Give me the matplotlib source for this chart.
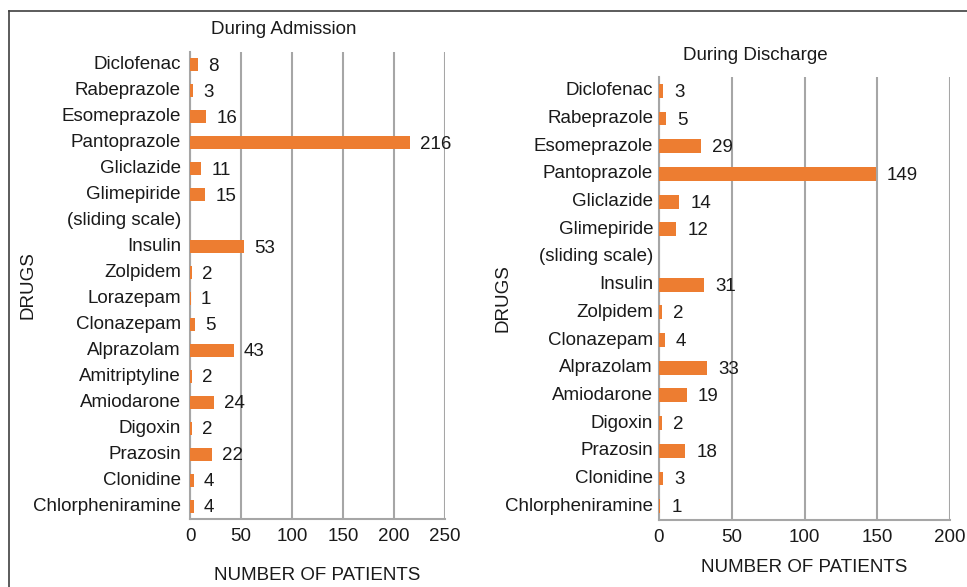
import matplotlib
matplotlib.use("Agg")
import matplotlib.pyplot as plt
from matplotlib.lines import Line2D
import matplotlib.transforms as mtransforms
import numpy as np

plt.rcParams['font.family'] = ['Liberation Sans', 'DejaVu Sans']

adm_drugs = ["Diclofenac", "Rabeprazole", "Esomeprazole", "Pantoprazole", "Gliclazide",
             "Glimepiride", "(sliding scale)", "Insulin", "Zolpidem", "Lorazepam",
             "Clonazepam", "Alprazolam", "Amitriptyline", "Amiodarone", "Digoxin",
             "Prazosin", "Clonidine", "Chlorpheniramine"]
adm_values = [8, 3, 16, 216, 11, 15, None, 53, 2, 1, 5, 43, 2, 24, 2, 22, 4, 4]

dis_drugs = ["Diclofenac", "Rabeprazole", "Esomeprazole", "Pantoprazole", "Gliclazide",
             "Glimepiride", "(sliding scale)", "Insulin", "Zolpidem", "Clonazepam",
             "Alprazolam", "Amiodarone", "Digoxin", "Prazosin", "Clonidine",
             "Chlorpheniramine"]
dis_values = [3, 5, 29, 149, 14, 12, None, 31, 2, 4, 33, 19, 2, 18, 3, 1]

adm_ticks = [0, 50, 100, 150, 200, 250]
dis_ticks = [0, 50, 100, 150, 200]

W, H = 967, 587
fig = plt.figure(figsize=(W / 100, H / 100), dpi=100)

BAR = "#ED7D31"
GRID = "#A6A6A6"
FS = 13.5


def px(x0, y0, x1, y1):
    return [x0 / W, 1 - y1 / H, (x1 - x0) / W, (y1 - y0) / H]


def panel(rect, drugs, values, ticks, ypad, label_off):
    ax = fig.add_axes(rect)
    n = len(drugs)
    y = np.arange(n)
    vals = [np.nan if v is None else v for v in values]
    ax.barh(y, vals, height=0.5, color=BAR, zorder=3)
    xmax = ticks[-1]
    scale = xmax / (rect[2] * W)
    down = mtransforms.ScaledTranslation(0, -1.5 / 100, fig.dpi_scale_trans)
    for yi, v in zip(y, values):
        if v is None:
            continue
        ax.text(v + label_off * scale, yi, str(v), va="center", ha="left",
                fontsize=FS, color="#1a1a1a", zorder=4,
                transform=ax.transData + down)
    ax.set_xlim(0, xmax)
    ax.set_ylim(n - 0.5, -0.5)
    ax.set_xticks(ticks)
    ax.set_yticks(y)
    ax.set_yticklabels(drugs)
    ax.tick_params(axis="both", length=0, labelsize=FS, colors="#1a1a1a")
    ax.tick_params(axis="y", pad=ypad)
    ax.tick_params(axis="x", pad=6.5)
    up = mtransforms.ScaledTranslation(0, 2 / 100, fig.dpi_scale_trans)
    for lab in ax.get_yticklabels():
        lab.set_transform(lab.get_transform() + up)
    ax.grid(axis="x", color=GRID, linewidth=1.5, zorder=0)
    for s in ["top", "right"]:
        ax.spines[s].set_visible(False)
    for s in ["left", "bottom"]:
        ax.spines[s].set_color(GRID)
        ax.spines[s].set_linewidth(1.5)
    return ax


panel(px(190, 52, 445, 519), adm_drugs, adm_values, adm_ticks, 6.5, 10)
panel(px(659, 77, 950, 520), dis_drugs, dis_values, dis_ticks, 4.3, 11)

fig.text(284 / W, 1 - 29 / H, "During Admission", ha="center", va="center", fontsize=FS, color="#1a1a1a")
fig.text(755 / W, 1 - 56 / H, "During Discharge", ha="center", va="center", fontsize=FS, color="#1a1a1a")
fig.text(317 / W, 1 - 575 / H, "NUMBER OF PATIENTS", ha="center", va="center", fontsize=FS, color="#1a1a1a")
fig.text(804 / W, 1 - 568 / H, "NUMBER OF PATIENTS", ha="center", va="center", fontsize=FS, color="#1a1a1a")
fig.text(28 / W, 1 - 285 / H, "DRUGS", ha="center", va="center", rotation=90, fontsize=FS, color="#1a1a1a")
fig.text(503 / W, 1 - 298 / H, "DRUGS", ha="center", va="center", rotation=90, fontsize=FS, color="#1a1a1a")

fig.add_artist(Line2D([9 / W, 1.0], [1 - 11 / H, 1 - 11 / H], color="#404040", linewidth=1.2))
fig.add_artist(Line2D([9 / W, 9 / W], [1 - 11 / H, 0.0], color="#404040", linewidth=1.2))

fig.savefig("out.png", dpi=100)
